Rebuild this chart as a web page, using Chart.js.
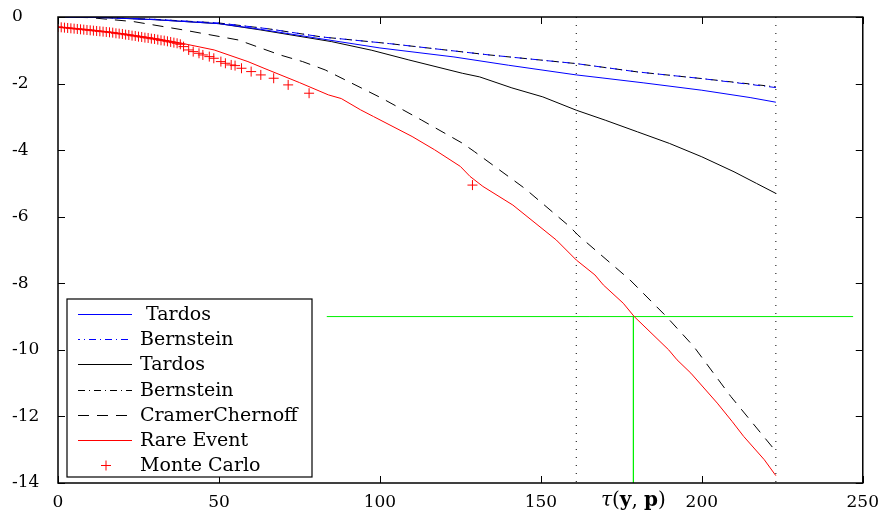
<!DOCTYPE html>
<html><head><meta charset="utf-8">
<script src="https://cdn.jsdelivr.net/npm/chart.js@4.4.0/dist/chart.umd.min.js"></script>
<style>html,body{margin:0;padding:0;background:#fff;}canvas{display:block;}</style>
</head><body>
<canvas id="c" width="880" height="516"></canvas>
<script>
// ---- data ----
const xTicks = [0, 50, 100, 150, 200, 250];
const yTicks = [0, -2, -4, -6, -8, -10, -12, -14];
const legendLabels = [' Tardos', 'Bernstein', 'Tardos', 'Bernstein', 'CramerChernoff', 'Rare Event', 'Monte Carlo'];
const axisTitle = ['τ', '(', 'y', ', ', 'p', ')'];

const tardosBlueX = [0, 15, 30, 50, 63, 82, 100, 123, 140, 161, 169, 182, 200, 215, 223];
const tardosBlueY = [0, -0.02, -0.08, -0.2, -0.37, -0.66, -0.93, -1.2, -1.45, -1.74, -1.83, -1.98, -2.2, -2.42, -2.56];

const bernsteinBlueX = [0, 15, 30, 50, 65, 82, 103, 134, 161, 180, 200, 223];
const bernsteinBlueY = [0, -0.02, -0.07, -0.18, -0.35, -0.6, -0.8, -1.14, -1.4, -1.65, -1.85, -2.12];

const tardosBlackX = [0, 15, 30, 50, 63, 85, 97.5, 109, 125.6, 131, 141, 150.6, 161, 170, 180, 190, 200, 210, 217, 223];
const tardosBlackY = [0, -0.02, -0.08, -0.2, -0.39, -0.74, -1.0, -1.29, -1.69, -1.8, -2.13, -2.4, -2.8, -3.1, -3.45, -3.8, -4.2, -4.65, -5.0, -5.3];

const bernsteinBlackX = [0, 15, 30, 50, 65, 82, 103, 134, 161, 180, 200, 223];
const bernsteinBlackY = [0, -0.02, -0.07, -0.18, -0.35, -0.6, -0.8, -1.14, -1.4, -1.65, -1.85, -2.1];

const cramerX = [0, 10, 23.6, 39, 56, 69, 76, 83, 100.6, 113, 125.6, 129.3, 145, 159, 161.5, 177.7, 189, 197.5, 209, 223];
const cramerY = [0, -0.02, -0.14, -0.39, -0.69, -1.14, -1.34, -1.59, -2.44, -3.1, -3.79, -4.04, -5.15, -6.3, -6.55, -7.9, -9.0, -9.9, -11.4, -13.05];

const rareX = [0, 10, 20, 30, 38, 48.5, 59, 64, 75, 84, 88, 94, 98, 110, 117, 125, 128, 132, 141.3, 154.8, 161, 166.8, 169.4, 175.6, 179, 189.7, 192.3, 196.6, 204.8, 209.4, 213, 219.4, 223];
const rareY = [-0.3, -0.38, -0.5, -0.64, -0.78, -0.99, -1.34, -1.54, -1.97, -2.34, -2.45, -2.79, -2.99, -3.59, -3.99, -4.49, -4.79, -5.09, -5.65, -6.7, -7.3, -7.75, -8.05, -8.6, -9.0, -10.0, -10.3, -10.7, -11.6, -12.15, -12.6, -13.3, -13.78];

const monteX = [0, 1, 2, 3, 4, 5, 6, 7, 8, 9, 10, 11, 12, 13, 14, 15, 16, 17, 18, 19, 20, 21, 22, 23, 24, 25, 26, 27, 28, 29, 30, 31, 32, 33, 34, 35, 36, 37, 38,
  39, 40.6, 42, 43.8, 45, 47, 48.4, 50.6, 52, 53.8, 55, 57, 60, 63, 67, 71.5, 78, 128.75];
const monteY = [-0.3, -0.31, -0.32, -0.33, -0.34, -0.35, -0.36, -0.37, -0.38, -0.39, -0.4, -0.41, -0.42, -0.43, -0.44, -0.45, -0.46, -0.47, -0.49, -0.5, -0.51, -0.53, -0.54, -0.56, -0.57, -0.59, -0.6, -0.62, -0.63, -0.65, -0.66, -0.68, -0.7, -0.71, -0.73, -0.75, -0.77, -0.79, -0.82,
  -0.89, -0.99, -1.04, -1.09, -1.14, -1.19, -1.24, -1.34, -1.39, -1.44, -1.46, -1.54, -1.64, -1.74, -1.84, -2.04, -2.29, -5.05];

const markerX = [161, 223];          // dotted vertical lines
const thresholdY = -9;               // green horizontal line
const thresholdSpanX = [83.5, 247];
const crossingX = 178.75;            // green vertical line
const yMin = -14, yMax = 0, xMin = 0, xMax = 250;

// ---- build datasets ----
const pts = (xs, ys) => xs.map((x, i) => ({ x, y: ys[i] }));
const lineDs = (label, xs, ys, color, dash, extra) => Object.assign({
  type: 'line', label, data: pts(xs, ys), borderColor: color, backgroundColor: color,
  borderWidth: 1, borderDash: dash || [], pointRadius: 0, fill: false, tension: 0
}, extra || {});

const datasets = [
  lineDs(legendLabels[0], tardosBlueX, tardosBlueY, '#0000ff', null, { order: 1 }),
  lineDs(legendLabels[1], bernsteinBlueX, bernsteinBlueY, '#0000ff', [7, 4, 1, 4], { order: 0, borderDashOffset: 5 }),
  lineDs(legendLabels[2], tardosBlackX, tardosBlackY, '#000000', null, { order: 2 }),
  lineDs(legendLabels[3], bernsteinBlackX, bernsteinBlackY, '#000000', [7, 4, 1, 4], { order: 3 }),
  lineDs(legendLabels[4], cramerX, cramerY, '#000000', [11, 8], { order: 4 }),
  lineDs(legendLabels[5], rareX, rareY, '#ff0000', null, { order: 5 }),
  { type: 'scatter', label: legendLabels[6], data: pts(monteX, monteY), borderColor: '#ff0000', backgroundColor: '#ff0000',
    pointStyle: 'cross', pointRadius: 5, borderWidth: 1, showLine: false, order: 6 },
  lineDs('marker1', [markerX[0], markerX[0]], [yMax, yMin], '#000000', [1, 7], { order: 7 }),
  lineDs('marker2', [markerX[1], markerX[1]], [yMax, yMin], '#000000', [1, 7], { order: 8 }),
  lineDs('thresholdH', thresholdSpanX, [thresholdY, thresholdY], '#00f000', null, { order: 9 }),
  lineDs('thresholdV', [crossingX, crossingX], [thresholdY, yMin], '#00f000', null, { order: 10 })
];
const legendCount = 7;

const FONT = '"DejaVu Serif", serif';

const framePlugin = {
  id: 'frame',
  afterDraw(chart) {
    const { ctx, chartArea: a, scales: { x, y } } = chart;
    ctx.save();
    ctx.strokeStyle = '#000';
    ctx.lineWidth = 1;
    ctx.beginPath();
    xTicks.forEach(v => {
      const px = Math.round(x.getPixelForValue(v)) + 0.5;
      ctx.moveTo(px, a.bottom); ctx.lineTo(px, a.bottom - 7);
      ctx.moveTo(px, a.top); ctx.lineTo(px, a.top + 7);
    });
    yTicks.forEach(v => {
      const py = Math.round(y.getPixelForValue(v)) + 0.5;
      ctx.moveTo(a.left, py); ctx.lineTo(a.left + 7, py);
      ctx.moveTo(a.right, py); ctx.lineTo(a.right - 7, py);
    });
    ctx.stroke();
    ctx.lineWidth = 1.5;
    ctx.strokeRect(a.left, a.top, a.right - a.left, a.bottom - a.top);

    // legend
    const bx = a.left + 9, bw = 245, bh = 178, by = a.bottom - 6 - bh;
    ctx.fillStyle = '#fff';
    ctx.fillRect(bx, by, bw, bh);
    ctx.lineWidth = 1.2;
    ctx.strokeRect(bx, by, bw, bh);
    ctx.font = '19px ' + FONT;
    ctx.textBaseline = 'middle';
    ctx.textAlign = 'left';
    for (let i = 0; i < legendCount; i++) {
      const ds = chart.data.datasets[i];
      const cy = Math.round(by + 15 + i * 25.2) + 0.5;
      const x0 = a.left + 20, x1 = a.left + 74;
      ctx.strokeStyle = ds.borderColor;
      ctx.lineWidth = 1;
      if (ds.pointStyle === 'cross') {
        const cx = (x0 + x1) / 2 + 1, r = ds.pointRadius;
        ctx.setLineDash([]);
        ctx.beginPath();
        ctx.moveTo(cx - r, cy); ctx.lineTo(cx + r, cy);
        ctx.moveTo(cx, cy - r); ctx.lineTo(cx, cy + r);
        ctx.stroke();
      } else {
        ctx.setLineDash(ds.borderDash || []);
        ctx.lineDashOffset = ds.borderDashOffset || 0;
        ctx.beginPath();
        ctx.moveTo(x0, cy); ctx.lineTo(x1, cy);
        ctx.stroke();
        ctx.setLineDash([]);
      }
      ctx.fillStyle = '#000';
      ctx.fillText(ds.label, a.left + 82, cy + 1);
    }

    // x axis title: τ(y, p) with bold y and p
    const fonts = ['italic 20px ' + FONT, '20px ' + FONT, 'bold 20px ' + FONT, '20px ' + FONT, 'bold 20px ' + FONT, '20px ' + FONT];
    let total = 0;
    const widths = axisTitle.map((t, i) => { ctx.font = fonts[i]; const w = ctx.measureText(t).width; total += w; return w; });
    let tx = x.getPixelForValue(crossingX) - total / 2;
    const ty = a.bottom + 18;
    axisTitle.forEach((t, i) => { ctx.font = fonts[i]; ctx.fillText(t, tx, ty); tx += widths[i]; });
    ctx.restore();
  }
};

new Chart(document.getElementById('c'), {
  data: { datasets },
  options: {
    responsive: false,
    animation: false,
    layout: { padding: { left: 12, top: 17, right: 15, bottom: 0 } },
    plugins: { legend: { display: false }, tooltip: { enabled: false } },
    scales: {
      x: {
        type: 'linear', min: xMin, max: xMax,
        afterBuildTicks: s => { s.ticks = xTicks.map(v => ({ value: v })); },
        afterFit: s => { s.height = 33; },
        grid: { display: false }, border: { display: false },
        ticks: { color: '#000', font: { family: FONT, size: 17 }, padding: 1, autoSkip: false, maxRotation: 0,
          callback: v => String(v) }
      },
      y: {
        type: 'linear', min: yMin, max: yMax,
        afterBuildTicks: s => { s.ticks = yTicks.map(v => ({ value: v })); },
        afterFit: s => { s.width = 46; },
        grid: { display: false }, border: { display: false },
        ticks: { color: '#000', font: { family: FONT, size: 17 }, crossAlign: 'far', padding: 4, autoSkip: false,
          callback: v => String(v) }
      }
    }
  },
  plugins: [framePlugin]
});
</script>
</body></html>
